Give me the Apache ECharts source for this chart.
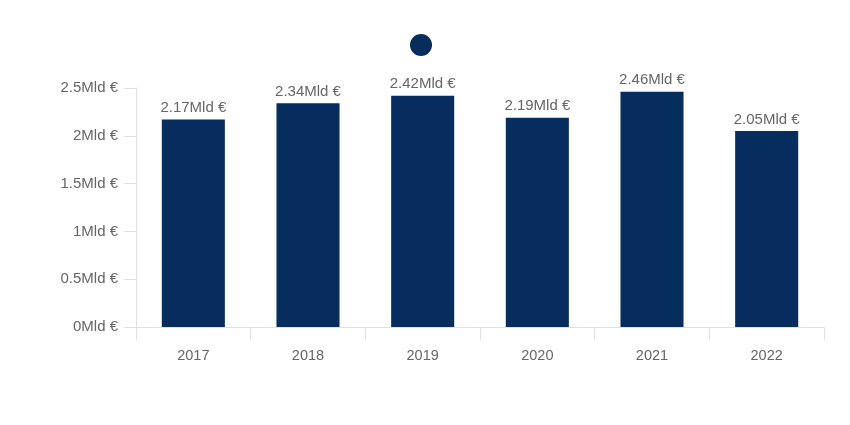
<!DOCTYPE html>
<html><head><meta charset="utf-8">
<script src="https://cdn.jsdelivr.net/npm/echarts@6/dist/echarts.min.js"></script>
<style>html,body{margin:0;padding:0;background:#fff}#c{width:850px;height:425px}</style>
</head><body><div id="c"></div>
<script>
const categories = ['2017','2018','2019','2020','2021','2022'];
const values = [2.17, 2.34, 2.42, 2.19, 2.46, 2.05];
const yTicks = [0, 0.5, 1, 1.5, 2, 2.5];
const chart = echarts.init(document.getElementById('c'));
const fmt = v => v + 'Mld €';
const ff = 'Liberation Sans, Arial, sans-serif';
chart.setOption({
  animation: false,
  legend: {
    show: true, left: 405, top: 29, icon: 'circle', itemWidth: 22, itemHeight: 22,
    data: [{name: ' '}], textStyle: {fontSize: 1}
  },
  grid: {left: 136, right: 26, top: 88, bottom: 98, containLabel: false},
  xAxis: {
    type: 'category', data: categories,
    axisLine: {lineStyle: {color: '#e0e0e0'}},
    axisTick: {show: true, length: 13, lineStyle: {color: '#e0e0e0'}},
    axisLabel: {color: '#666', fontSize: 14.5, margin: 21, fontFamily: ff}
  },
  yAxis: {
    type: 'value', min: 0, max: 2.5, interval: 0.5,
    axisLine: {show: true, lineStyle: {color: '#e0e0e0'}},
    axisTick: {show: true, length: 12, lineStyle: {color: '#e0e0e0'}},
    splitLine: {show: false},
    axisLabel: {color: '#666', fontSize: 15, margin: 18, formatter: v => fmt(v), fontFamily: ff}
  },
  series: [{
    name: ' ', type: 'bar', data: values, barWidth: '55%',
    itemStyle: {color: '#062d5e'},
    label: {show: true, position: 'top', color: '#666', fontSize: 15, distance: 4,
      formatter: p => fmt(p.value), fontFamily: ff}
  }]
});
</script></body></html>
